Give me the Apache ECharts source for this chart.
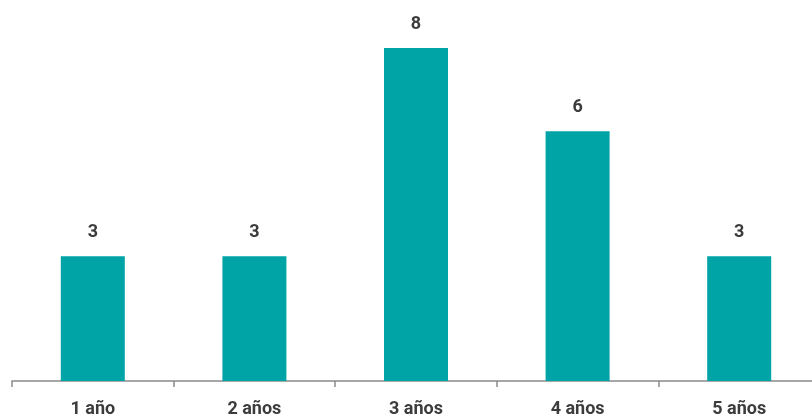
<!DOCTYPE html>
<html><head><meta charset="utf-8">
<script src="https://cdn.jsdelivr.net/npm/echarts@6/dist/echarts.min.js"></script>
<style>html,body{margin:0;padding:0;background:#fff;overflow:hidden;width:812px;height:418px}#c{width:820px;height:418px}</style>
</head><body><div id="c"></div>
<script>
const categories = ['1 año', '2 años', '3 años', '4 años', '5 años'];
const values = [3, 3, 8, 6, 3];
const chart = echarts.init(document.getElementById('c'));
chart.setOption({
  animation: false,
  grid: { left: 12, right: 0, top: 48, bottom: 37, containLabel: false },
  xAxis: {
    type: 'category', data: categories,
    axisLine: { lineStyle: { color: '#8a8a8a', width: 1.5 } },
    axisTick: { show: true, length: 6, lineStyle: { color: '#8a8a8a', width: 1.5 } },
    axisLabel: { color: '#3c3c3c', fontSize: 18, fontWeight: 'bold', margin: 19, fontFamily: 'Roboto' }
  },
  yAxis: { type: 'value', min: 0, max: 8, show: false, splitLine: { show: false } },
  series: [{
    type: 'bar', data: values, barWidth: 64,
    itemStyle: { color: '#00A3A6' },
    label: { show: true, position: 'top', distance: 15, color: '#3c3c3c', fontSize: 18, fontWeight: 'bold', fontFamily: 'Roboto' }
  }]
});
</script></body></html>
